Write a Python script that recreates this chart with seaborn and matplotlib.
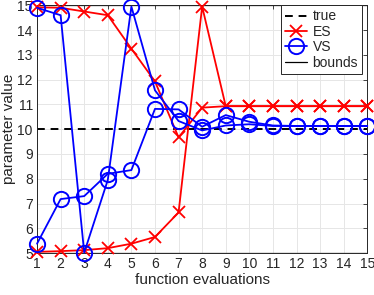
import matplotlib
matplotlib.use("Agg")
import matplotlib.pyplot as plt
import seaborn as sns
from matplotlib.lines import Line2D

# function evaluations
evals = list(range(1, 16))

# ES runs (red x)
es_run1 = [14.92, 14.9, 14.75, 14.6, 13.25, 11.93, 9.67, 10.87, 10.93, 10.93, 10.93, 10.93, 10.93, 10.93, 10.93]
es_run2 = [5.05, 5.08, 5.12, 5.2, 5.38, 5.65, 6.64, 14.95, 10.93, 10.93, 10.93, 10.93, 10.93, 10.93, 10.93]

# VS runs (blue circles)
vs_run1 = [14.9, 14.6, 5.02, 7.95, 14.95, 11.57, 10.33, 9.95, 10.15, 10.2, 10.13, 10.13, 10.13, 10.13, 10.13]
vs_run2 = [5.38, 7.18, 7.3, 8.2, 8.35, 10.82, 10.8, 10.1, 10.57, 10.3, 10.15, 10.13, 10.13, 10.13, 10.13]

true_value = 10
bounds = [5, 15]

sns.set_style("whitegrid")
plt.rcParams["font.family"] = ["Liberation Sans", "DejaVu Sans"]

fig = plt.figure(figsize=(3.74, 2.95), dpi=100)
ax = fig.add_axes([0.099, 0.142, 0.883, 0.84])

for b in bounds:
    ax.axhline(b, color="black", lw=0.9, zorder=1)
ax.axhline(true_value, color="black", lw=1.4, ls=(0, (4, 3)), zorder=1)

for run in [es_run1, es_run2]:
    sns.lineplot(x=evals, y=run, ax=ax, color="red", lw=1.3, marker="x",
                 markersize=8, mec="red", mew=1.3, clip_on=False, zorder=3)
for run in [vs_run1, vs_run2]:
    sns.lineplot(x=evals, y=run, ax=ax, color="blue", lw=1.3, marker="o",
                 markersize=11, mfc="none", mec="blue", mew=1.4,
                 clip_on=False, zorder=4)

ax.set_xlim(1, 15)
ax.set_ylim(5, 15)
ax.set_xticks(evals)
ax.set_yticks(range(5, 16))
ax.grid(True, color="#e6e6e6", lw=0.7)
for s in ax.spines.values():
    s.set_color("#262626")
    s.set_linewidth(0.7)
ax.tick_params(direction="in", length=3, width=0.6, colors="#262626",
               labelsize=10, top=True, right=True, pad=3)
ax.set_xlabel("function evaluations", fontsize=11, labelpad=1, color="#262626")
ax.set_ylabel("parameter value", fontsize=11, labelpad=1, color="#262626")

handles = [
    Line2D([], [], color="black", lw=1.4, ls=(0, (4, 3))),
    Line2D([], [], color="red", lw=1.3, marker="x", markersize=8, mew=1.3),
    Line2D([], [], color="blue", lw=1.3, marker="o", markersize=11, mfc="none", mew=1.4),
    Line2D([], [], color="black", lw=0.9),
]
leg = ax.legend(handles, ["true", "ES", "VS", "bounds"], loc="upper right",
                bbox_to_anchor=(0.985, 1.0), fontsize=10, frameon=True,
                fancybox=False, framealpha=1, edgecolor="#262626",
                handlelength=1.6, handletextpad=0.4, borderpad=0.3,
                labelspacing=0.1, borderaxespad=0)
leg.get_frame().set_linewidth(0.7)
leg.set_zorder(10)

fig.savefig("out.png", dpi=100)
